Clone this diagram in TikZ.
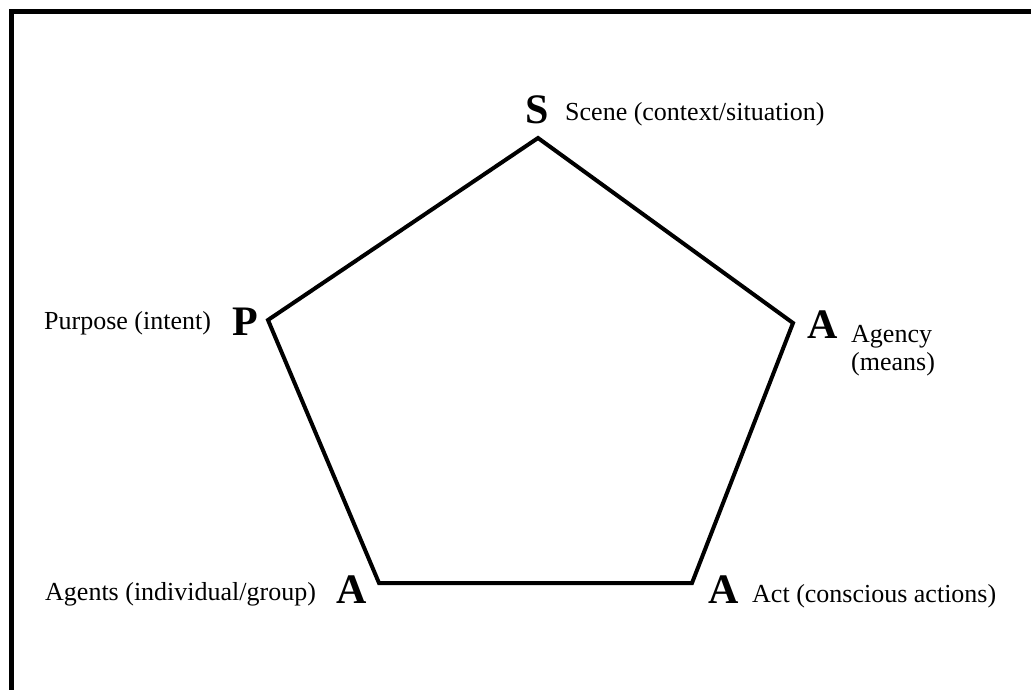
\documentclass[tikz,border=0pt]{standalone}
\usepackage{fontspec}
\setmainfont{Liberation Serif}
\begin{document}
\begin{tikzpicture}[x=1pt,y=-1pt,
  big/.style={font=\fontsize{42}{42}\selectfont\bfseries, inner sep=0pt, anchor=base},
  lbl/.style={font=\fontsize{26}{28}\selectfont, inner sep=0pt, anchor=base west},
  edge/.style={line width=4pt, line join=miter},
  frame/.style={line width=5pt}]
\useasboundingbox (0,0) rectangle (1031,690);
% frame (top and left edges visible)
\coordinate (fbl) at (11.5,695);
\coordinate (ftl) at (11.5,11.5);
\coordinate (ftr) at (1036,11.5);
\draw[frame] (fbl) -- (ftl) -- (ftr);
% vertices
\coordinate (vS) at (538,138);
\coordinate (vAg) at (793,323);
\coordinate (vAc) at (692,583);
\coordinate (vAt) at (379,583);
\coordinate (vP) at (268,320);
\draw[edge] (vS) -- (vAg) -- (vAc) -- (vAt) -- (vP) -- cycle;
% letters
\node[big] (lS) at (537,124) {S};
\node[big] (lP) at (245,335) {P};
\node[big] (lAg) at (823,338) {A};
\node[big] (lAt) at (352,603) {A};
\node[big] (lAc) at (724,603) {A};
% labels
\node[lbl] (tS) at (565,121) {Scene (context/situation)};
\node[lbl] (tP) at (44,329) {Purpose (intent)};
\node[lbl] (tAg1) at (851,342) {Agency};
\node[lbl] (tAg2) at (851,370) {(means)};
\node[lbl] (tAt) at (45,600) {Agents (individual/group)};
\node[lbl] (tAc) at (752,602) {Act (conscious actions)};
\end{tikzpicture}
\end{document}
